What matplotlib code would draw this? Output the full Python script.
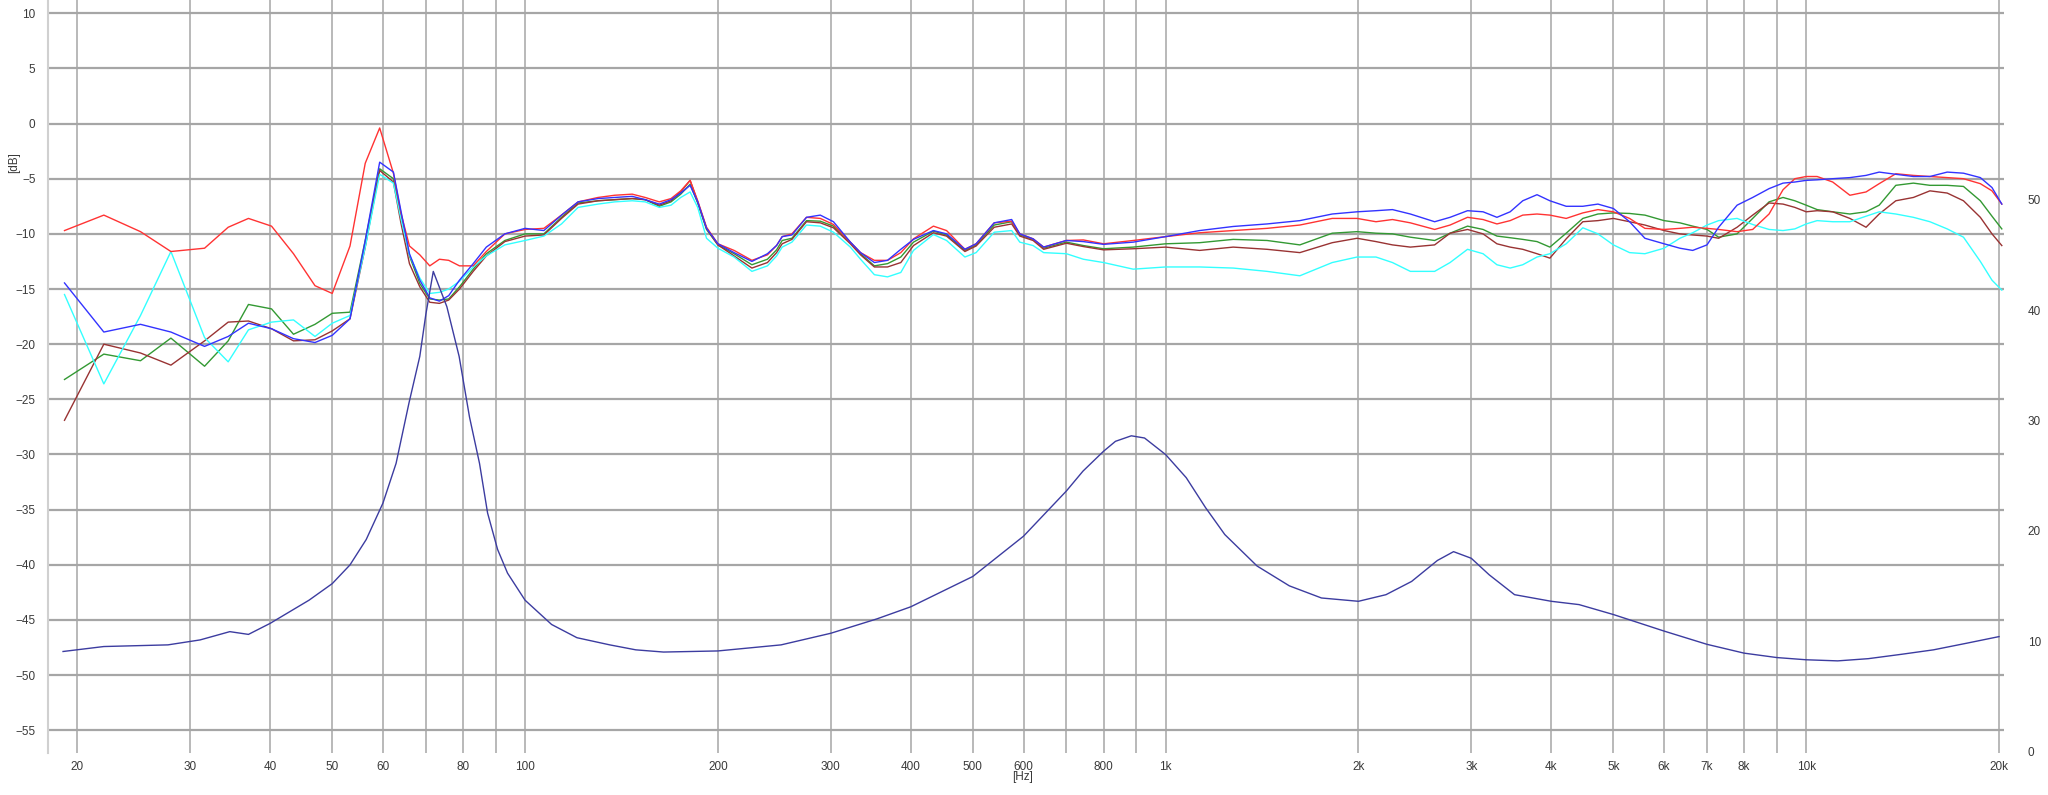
import matplotlib
matplotlib.use('Agg')
import matplotlib.pyplot as plt
import numpy as np

plt.rcParams['font.family'] = ['Liberation Sans', 'DejaVu Sans']

# frequency grid for the five SPL curves [Hz]
freq_low = [19.1, 22, 25.1, 28, 31.6, 34.4, 37, 40.2, 43.5, 47, 50, 53.3, 56.3, 59.3]
freq_bass = [62.3, 64, 66, 68.5, 71, 73.5, 76, 79, 83, 87, 93, 100, 107, 114, 121, 130,
             138, 147, 154, 162, 169, 175, 181, 186, 192, 200]
freq_mid = [212, 226, 239, 247, 252, 261, 275, 289, 303, 322, 334, 351, 368, 386, 404,
            434, 455, 486, 506, 540, 575, 592, 621, 645, 700, 744, 800, 890, 1000]
freq_upper = [1130, 1275, 1440, 1620, 1820, 1990, 2130, 2260, 2410, 2630, 2780, 2960,
              3130, 3290, 3450, 3610, 3800, 3980, 4220, 4480]
freq_high = [4730, 5000, 5300, 5600, 6000, 6350, 6650, 7000, 7300, 7800, 8250, 8750, 9200,
             9600, 10000, 10400, 11000, 11700, 12400, 13000, 13800, 14700, 15600, 16600,
             17600, 18700, 19500, 20200]

# SPL curves [dB]
spl_red = ([-9.7, -8.3, -9.8, -11.6, -11.3, -9.4, -8.6, -9.3, -11.8, -14.7, -15.4, -11.1, -3.6, -0.4]
           + [-4.5, -8.1, -11.1, -11.9, -12.9, -12.3, -12.4, -12.9, -12.9, -11.6, -10.0, -9.6, -9.5,
              -8.3, -7.1, -6.7, -6.5, -6.4, -6.7, -7.1, -6.8, -6.1, -5.15, -7.0, -9.4, -10.9]
           + [-11.5, -12.4, -11.9, -11.05, -10.25, -10.0, -8.5, -8.6, -9.15, -10.75, -11.7, -12.4,
              -12.4, -11.7, -10.45, -9.3, -9.7, -11.4, -10.9, -9.0, -8.85, -10.0, -10.45, -11.2,
              -10.6, -10.55, -10.9, -10.6, -10.25]
           + [-9.9, -9.7, -9.5, -9.2, -8.6, -8.6, -8.9, -8.7, -9.0, -9.6, -9.2, -8.5, -8.7, -9.1,
              -8.8, -8.3, -8.2, -8.3, -8.6, -8.1]
           + [-7.8, -8.0, -8.6, -9.5, -9.6, -9.5, -9.4, -9.5, -9.6, -9.8, -9.6, -8.2, -6.0, -5.0,
              -4.8, -4.8, -5.3, -6.5, -6.2, -5.45, -4.55, -4.7, -4.8, -4.9, -5.0, -5.45, -6.1, -7.3])

spl_blue = ([-14.45, -18.9, -18.2, -18.9, -20.2, -19.3, -18.1, -18.6, -19.5, -19.85, -19.2, -17.7, -10.6, -3.5]
            + [-4.4, -7.9, -11.8, -14.2, -15.8, -16.1, -15.6, -14.2, -12.7, -11.2, -10.0, -9.5, -9.7,
               -8.3, -7.1, -6.8, -6.7, -6.6, -6.9, -7.3, -6.9, -6.3, -5.6, -7.1, -9.5, -10.9]
            + [-11.7, -12.5, -11.8, -11.05, -10.25, -10.1, -8.5, -8.3, -8.9, -10.75, -11.7, -12.6,
               -12.4, -11.4, -10.5, -9.7, -10.0, -11.4, -10.9, -9.0, -8.7, -10.0, -10.45, -11.2,
               -10.6, -10.7, -10.95, -10.75, -10.25]
            + [-9.7, -9.33, -9.1, -8.8, -8.2, -8.0, -7.9, -7.8, -8.2, -8.9, -8.5, -7.9, -8.0, -8.5,
               -8.0, -7.0, -6.45, -7.0, -7.5, -7.5]
            + [-7.3, -7.7, -8.9, -10.4, -10.9, -11.3, -11.5, -11.0, -9.4, -7.4, -6.7, -5.9, -5.4,
               -5.3, -5.15, -5.1, -5.0, -4.9, -4.7, -4.4, -4.6, -4.8, -4.8, -4.4, -4.5, -4.9, -5.8, -7.3])

spl_cyan = ([-15.5, -23.6, -17.4, -11.6, -19.4, -21.6, -18.7, -18.0, -17.8, -19.3, -18.1, -17.4, -11.2, -4.6]
            + [-5.4, -8.6, -11.9, -14.0, -15.4, -15.3, -15.0, -14.3, -13.0, -12.0, -11.0, -10.6, -10.2,
               -9.1, -7.6, -7.3, -7.1, -7.0, -7.1, -7.6, -7.4, -6.7, -6.2, -7.6, -10.4, -11.3]
            + [-12.1, -13.4, -12.9, -12.0, -11.2, -10.75, -9.2, -9.3, -9.85, -11.2, -12.3, -13.7,
               -13.9, -13.5, -11.5, -10.06, -10.6, -12.1, -11.7, -9.85, -9.7, -10.75, -11.06, -11.7,
               -11.8, -12.3, -12.6, -13.2, -13.0]
            + [-13.0, -13.1, -13.4, -13.8, -12.6, -12.1, -12.1, -12.6, -13.4, -13.4, -12.6, -11.4,
               -11.8, -12.8, -13.1, -12.8, -12.1, -11.8, -10.9, -9.45]
            + [-10.0, -11.0, -11.7, -11.8, -11.3, -10.4, -9.9, -9.2, -8.8, -8.6, -9.15, -9.6, -9.7,
               -9.55, -9.1, -8.8, -8.9, -8.9, -8.4, -8.0, -8.2, -8.5, -8.9, -9.55, -10.3, -12.5, -14.2, -15.1])

spl_green = ([-23.2, -20.9, -21.5, -19.45, -22.0, -19.7, -16.4, -16.8, -19.1, -18.2, -17.2, -17.1, -10.6, -4.1]
             + [-5.0, -8.3, -12.0, -14.5, -15.9, -16.0, -15.9, -14.8, -13.2, -11.8, -10.6, -10.0, -10.0,
                -8.5, -7.2, -7.0, -6.9, -6.8, -6.9, -7.5, -7.1, -6.4, -5.5, -7.2, -9.6, -11.0]
             + [-11.8, -12.8, -12.3, -11.45, -10.6, -10.4, -8.8, -8.85, -9.3, -10.8, -11.8, -12.9,
                -12.7, -12.1, -10.75, -9.75, -10.1, -11.5, -11.0, -9.2, -8.9, -10.1, -10.5, -11.3,
                -10.75, -11.06, -11.35, -11.2, -10.9]
             + [-10.8, -10.5, -10.6, -11.0, -9.94, -9.8, -9.94, -10.0, -10.3, -10.6, -9.94, -9.3,
                -9.6, -10.2, -10.35, -10.5, -10.7, -11.2, -9.94, -8.6]
             + [-8.2, -8.1, -8.15, -8.3, -8.8, -9.0, -9.3, -9.6, -10.3, -10.0, -8.6, -7.1, -6.7,
                -7.0, -7.4, -7.8, -8.0, -8.2, -8.0, -7.4, -5.6, -5.4, -5.6, -5.6, -5.7, -7.0, -8.4, -9.55])

spl_brown = ([-26.9, -20.0, -20.8, -21.9, -19.7, -18.0, -17.9, -18.6, -19.7, -19.6, -18.8, -17.7, -11.2, -4.25]
             + [-5.3, -9.0, -12.7, -14.8, -16.2, -16.3, -16.0, -15.0, -13.4, -12.0, -10.7, -10.2, -10.1,
                -8.6, -7.3, -7.0, -6.9, -6.8, -6.9, -7.4, -7.0, -6.2, -5.15, -7.1, -9.5, -11.0]
             + [-12.0, -13.1, -12.6, -11.7, -10.9, -10.5, -8.9, -9.0, -9.45, -10.9, -11.9, -13.0,
                -13.0, -12.6, -11.06, -9.9, -10.2, -11.6, -11.1, -9.4, -9.1, -10.2, -10.6, -11.4,
                -10.85, -11.15, -11.45, -11.35, -11.2]
             + [-11.5, -11.2, -11.4, -11.7, -10.8, -10.4, -10.7, -11.0, -11.2, -11.0, -9.94, -9.6,
                -10.0, -10.9, -11.2, -11.4, -11.8, -12.2, -10.45, -8.9]
             + [-8.8, -8.6, -8.9, -9.2, -9.7, -10.0, -10.1, -10.2, -10.4, -9.4, -8.3, -7.2, -7.3,
                -7.6, -8.0, -7.9, -8.0, -8.6, -9.4, -8.2, -7.0, -6.7, -6.1, -6.3, -7.0, -8.5, -10.0, -11.06])

# impedance curve (right axis)
imp_freq = [19, 22, 27.7, 31.1, 34.6, 37, 40, 46, 50, 53.3, 56.5, 60, 62.9, 65.9, 68.5, 70,
            71.9, 75.5, 78.9, 81.9, 84.9, 87.4, 90.6, 93.9, 100, 110, 120.5, 135.6, 148.9,
            164.5, 200, 251, 300, 354, 400, 500, 600, 700, 743, 800, 835, 884, 927, 1000,
            1077, 1154, 1237, 1389, 1560, 1751, 2000, 2208, 2421, 2656, 2815, 3000, 3200,
            3505, 4000, 4420, 5000, 6000, 7000, 8000, 9000, 10000, 11200, 12500, 14100,
            15800, 17800, 20000]
imp_ohm = [9.05, 9.5, 9.65, 10.1, 10.85, 10.6, 11.6, 13.7, 15.2, 16.9, 19.2, 22.5, 26.1,
           31.6, 35.8, 39.6, 43.5, 40.3, 35.8, 30.3, 26.1, 21.6, 18.3, 16.15, 13.7, 11.5,
           10.3, 9.65, 9.2, 9.0, 9.1, 9.65, 10.7, 12.0, 13.1, 15.85, 19.5, 23.6, 25.4, 27.2,
           28.1, 28.6, 28.4, 26.9, 24.8, 22.1, 19.65, 16.8, 15.0, 13.9, 13.6, 14.2, 15.4,
           17.3, 18.1, 17.5, 16.0, 14.2, 13.6, 13.3, 12.4, 10.9, 9.7, 8.9, 8.5, 8.3, 8.2,
           8.4, 8.8, 9.2, 9.8, 10.4]

# axis ticks
x_major = [20, 30, 40, 50, 60, 80, 100, 200, 300, 400, 500, 600, 800, 1000, 2000, 3000,
           4000, 5000, 6000, 7000, 8000, 10000, 20000]
x_labels = ['20', '30', '40', '50', '60', '80', '100', '200', '300', '400', '500', '600',
            '800', '1k', '2k', '3k', '4k', '5k', '6k', '7k', '8k', '10k', '20k']
x_minor = [70, 90, 700, 900, 9000]
y_left = list(range(-55, 11, 5))
y_right = [0, 10, 20, 30, 40, 50]

freq_spl = freq_low + freq_bass + freq_mid + freq_upper + freq_high

fig = plt.figure(figsize=(20.48, 7.95), dpi=100)
ax = fig.add_axes([48 / 2048, 42 / 795, 1956 / 2048, 753 / 795])
ax2 = ax.twinx()

grid_col = '#a6a6a6'
lw = 1.0
ax2.plot(imp_freq, imp_ohm, color='#3c3ca0', lw=lw)
ax.plot(freq_spl, spl_green, color='#339933', lw=lw, zorder=3)
ax.plot(freq_spl, spl_brown, color='#993333', lw=lw, zorder=3)
ax.plot(freq_spl, spl_cyan, color='#33ffff', lw=lw, zorder=3)
ax.plot(freq_spl, spl_red, color='#ff3333', lw=lw, zorder=4)
ax.plot(freq_spl, spl_blue, color='#3333ff', lw=lw, zorder=4)

ax.set_xscale('log')
ax.set_xlim(18.0, 20360)
ax.set_ylim(-57.06, 11.2)
ax2.set_ylim(-0.15, 68.1)

ax.set_xticks(x_major)
ax.set_xticklabels(x_labels)
ax.set_xticks(x_minor, minor=True)
ax.set_xticklabels([], minor=True)
ax.set_yticks(y_left)
ax2.set_yticks(y_right)

ax.set_axisbelow(True)
ax.grid(True, which='both', axis='x', color=grid_col, lw=1.1)
ax.grid(True, which='major', axis='y', color=grid_col, lw=1.6)

for s in ['top', 'right', 'bottom']:
    ax.spines[s].set_visible(False)
    ax2.spines[s].set_visible(False)
ax2.spines['left'].set_visible(False)
ax.spines['left'].set_color('#d0d0d0')
ax.spines['left'].set_linewidth(1.5)

txt_col = '#3a3a3a'
ax.tick_params(axis='both', which='both', length=0, labelsize=8.5, labelcolor=txt_col)
ax.tick_params(axis='y', pad=9)
ax.tick_params(axis='x', pad=6)
ax2.tick_params(axis='y', length=0, labelsize=8.5, labelcolor=txt_col, pad=17)

fig.text(14 / 2048, 1 - 163 / 795, '[dB]', rotation=90, ha='center', va='center',
         fontsize=8.5, color=txt_col)
fig.text(1023 / 2048, 1 - 777 / 795, '[Hz]', ha='center', va='center',
         fontsize=8.5, color=txt_col)

fig.savefig('out.png', dpi=100)
